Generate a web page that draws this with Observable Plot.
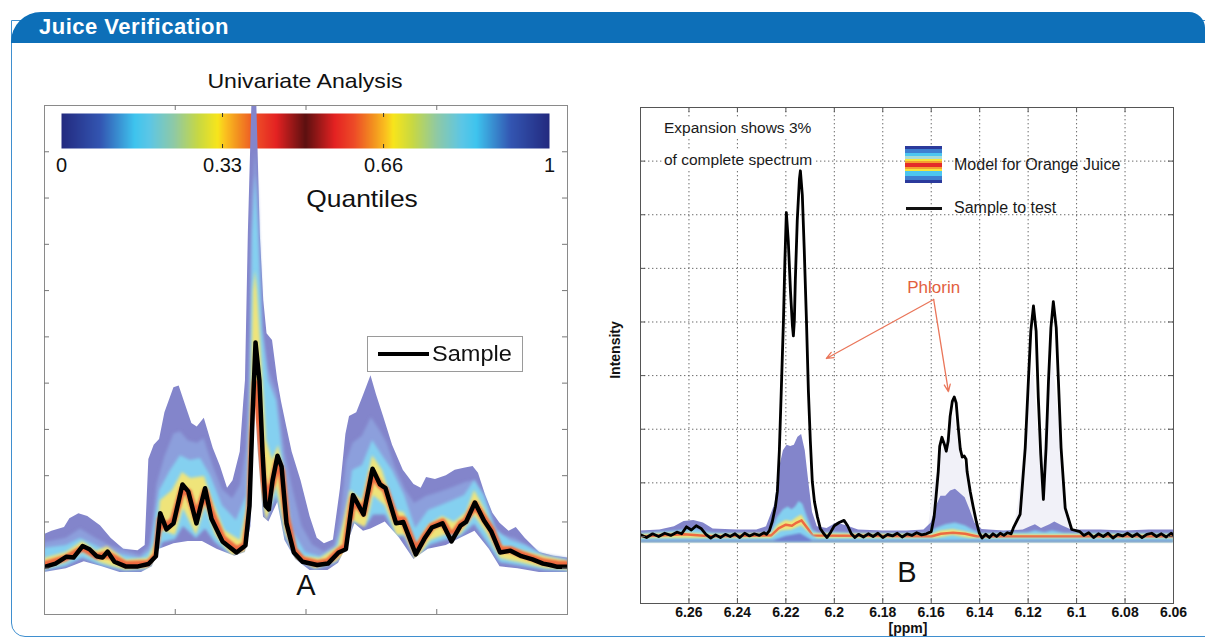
<!DOCTYPE html>
<html>
<head>
<meta charset="utf-8">
<script src="https://cdn.jsdelivr.net/npm/d3@7"></script>
<script src="https://cdn.jsdelivr.net/npm/@observablehq/plot@0.6"></script>
<style>
  html, body { margin: 0; padding: 0; background: #fff; }
  #page { position: relative; width: 1205px; height: 640px; overflow: hidden; background: #fff;
          font-family: "Liberation Sans", Arial, Helvetica, sans-serif; color: #111; }
  .abs { position: absolute; }
  .ctr { transform: translate(-50%, -50%); white-space: nowrap; }
  #panel { left: 11px; top: 20px; width: 1215px; height: 617px; border: 1.5px solid #3f8fcf;
           border-radius: 0 0 0 14px; box-sizing: border-box; }
  #header { left: 11px; top: 12px; width: 1194px; height: 31px; background: #0d6fb8; border-radius: 30px 16px 0 0; }
  #title { left: 39px; top: 14px; color: #fff; font-weight: bold; font-size: 22px; letter-spacing: 0.5px; line-height: 26px; }
  .note { font-size: 15.5px; color: #1a1a1a; white-space: nowrap; line-height: 18px; }
</style>
</head>
<body>
<div id="page">
  <div id="panel" class="abs"></div>
  <div id="header" class="abs"></div>
  <div id="title" class="abs">Juice Verification</div>

  <div id="cbar" class="abs" style="left:40px; top:105px;"></div>
  <div id="plotA" class="abs" style="left:0px; top:60px;"></div>
  <div id="plotB" class="abs" style="left:590px; top:60px;"></div>

  <!-- Panel A texts -->
  <div class="abs ctr" style="left:305px; top:81px; font-size:21px; transform: translate(-50%,-50%) scaleX(1.1);">Univariate Analysis</div>
  <div class="abs ctr" style="left:362px; top:199px; font-size:24px; transform: translate(-50%,-50%) scaleX(1.1);">Quantiles</div>
  <div class="abs" style="left:367px; top:336px; width:156px; height:36px; border:1px solid #9a9a9a; background:#fff; box-sizing:border-box;">
    <div class="abs" style="left:10px; top:15px; width:51px; height:4px; background:#000;"></div>
    <div class="abs" style="left:64px; top:4px; font-size:22px; line-height:26px; transform-origin:left center; transform: scaleX(1.07);">Sample</div>
  </div>
  <div class="abs ctr" style="left:306px; top:585px; font-size:29px;">A</div>

  <!-- Panel B texts -->
  <div class="abs note" style="left:662px; top:119px; background:#fff; padding:0 2px;">Expansion shows 3%</div>
  <div class="abs note" style="left:662px; top:151px; background:#fff; padding:0 2px;">of complete spectrum</div>
  <div class="abs" style="left:905px; top:146px; width:37px; height:37px;
     background: linear-gradient(to bottom, #2b3a9c 0%, #2b3a9c 9%, #3f7fd0 9%, #3f7fd0 18%, #4cc6f0 18%, #4cc6f0 27%, #a6dcd8 27%, #a6dcd8 34%, #f6e43a 34%, #f6e43a 41%, #f4a030 41%, #f4a030 46%, #e42c2a 46%, #e42c2a 56%, #f4a030 56%, #f4a030 61%, #f6e43a 61%, #f6e43a 68%, #4cc6f0 68%, #4cc6f0 80%, #3f7fd0 80%, #3f7fd0 91%, #2b3a9c 91%);"></div>
  <div class="abs note" style="left:954px; top:156px; font-size:16px;">Model for Orange Juice</div>
  <div class="abs" style="left:906px; top:207px; width:36px; height:3px; background:#111;"></div>
  <div class="abs note" style="left:954px; top:199px; font-size:16px;">Sample to test</div>
  <div class="abs ctr" style="left:615px; top:350px; font-size:14px; font-weight:bold; transform: translate(-50%,-50%) rotate(-90deg);">Intensity</div>
  <div class="abs ctr" style="left:907px; top:572px; font-size:29px;">B</div>
  <div class="abs ctr" style="left:908px; top:628px; font-size:14px; font-weight:bold;">[ppm]</div>
</div>

<script>
// ---------------- Colorbar (quantile colormap) ----------------
const quantileTicks = [0, 0.33, 0.66, 1];
const colorbarStops  = [0, 0.08, 0.15, 0.18, 0.23, 0.28, 0.32, 0.335, 0.36, 0.40, 0.44, 0.5, 0.56, 0.60, 0.64, 0.665, 0.68, 0.72, 0.77, 0.82, 0.85, 0.92, 1];
const colorbarColors = ["#232a7f","#3356b2","#3ec4ee","#5cc6e6","#8ec9a6","#c7d843","#f7e51c","#fbc21f","#f3931f","#ed4b27","#e42222","#5c1010",
                        "#e42222","#ed4b27","#f3931f","#fbc21f","#f7e51c","#c7d843","#8ec9a6","#5cc6e6","#3ec4ee","#3356b2","#232a7f"];

// ---------------- Panel A (univariate analysis) ----------------
// x: spectral point index (0–400), y: intensity (arbitrary units, 0–110)
const xTicksA = [100, 200, 300];
const yTicksA = [10, 20, 30, 40, 50, 60, 70, 80, 90, 100];

const sampleA = [[0,10.3],[8.4,11.0],[16.8,12.5],[22.2,12.3],[29.1,14.8],[34.4,14.1],[39.8,12.6],[44.4,12.3],[48.2,13.6],[53.5,11.4],[62,10.4],[71.5,10.4],[79.5,10.9],[85.2,12.6],[88.5,21.9],[93.3,18.4],[98.7,19.7],[105.5,28.1],[109.9,26.6],[116.2,19.7],[122.8,27.3],[127.7,20.7],[136.1,15.8],[146.8,13.4],[153.7,14.9],[156.8,23.5],[159.1,42.8],[161.4,58.8],[164.4,50.5],[166.7,35.4],[169,23.5],[171.6,22.7],[174.4,28.9],[178.2,34.3],[181.3,32.0],[185.1,19.7],[190.7,13.4],[197.3,11.4],[208.6,10.7],[216.8,11.0],[224.9,13.4],[230.5,14.1],[236,25.8],[244,21.6],[250.9,31.5],[256.6,28.1],[260.8,27.3],[268.9,19.7],[274.4,20.0],[284,13.0],[290.6,16.4],[296.3,18.8],[304.4,19.7],[311.3,15.8],[318.2,19.2],[322.4,20.0],[329.2,24.2],[336.1,20.3],[341.6,18.0],[348.4,13.4],[356.4,13.8],[364.8,12.6],[373.2,11.9],[381.3,11.0],[386.8,10.7],[392.3,10.3],[400,10.3]];

const upperOuterA = [[0,17.3],[5.7,18.0],[15.3,18.8],[19.4,20.7],[26.3,21.8],[33.1,21.2],[42.8,19.2],[50.9,16.5],[60.6,14.1],[71.5,13.8],[77,14.9],[79.8,33.5],[83.9,36.6],[88,37.8],[92.1,43.6],[99,49],[103,49.4],[107.1,45.9],[112.7,41.3],[116.8,40.5],[122.2,42.4],[129.1,35.9],[134.6,32],[140,27.3],[144.2,28.9],[149.7,35.1],[152.4,45.9],[153.7,50.5],[154.9,67.8],[155.9,82.3],[158,103.9],[158.6,110],[162.4,110],[163,103.9],[165,82.3],[167.7,67.8],[170.2,60.7],[174.4,59.2],[178.4,50.5],[181.3,45.9],[185.3,40.5],[189.4,35.1],[196.2,28.9],[203.1,21.2],[208.6,16.5],[214.1,15.3],[221,16.1],[226.4,27.3],[230.5,38.9],[233.3,42.8],[238.8,43.6],[244.2,47.5],[249.7,51.6],[253.9,47.5],[259.3,42.8],[266.2,36.6],[274.4,31.2],[282.6,28.1],[288.1,27.3],[292.2,29.6],[299,29.2],[307.3,30],[314.1,31.2],[321,31.6],[327.8,32],[331.9,30.5],[337.3,25.8],[342.9,21.9],[348.4,19.7],[355.3,18],[360.8,18.8],[367.6,16.5],[378.6,13.4],[389.5,12.6],[400,12.2]];

const blueTopA = [[0,15.5],[16.8,16.5],[27.5,18.5],[39,16.5],[50.5,14.8],[73.4,12.8],[81,15],[86,28],[92,34],[99,39],[104,39.5],[110,37.5],[117,37],[122,38],[129,32],[136,27],[144,25],[150,28],[154.5,36],[157.5,60],[159,90],[161.4,100],[163.7,90],[166.7,62],[171.3,53],[178,48],[184,35],[190,27],[197,19],[205,15],[214,13.5],[222,15],[227,22],[231,33],[236,37],[243,38.5],[250,42.5],[256,40],[262,37],[268,32],[276,27],[283,24],[292,25.5],[303,26.5],[313,27.5],[322,28.5],[330,29],[337,24],[343,19.5],[350,17],[360,16.5],[368,15],[380,13],[400,12.0]];

const cyanTopA = [[0,14.3],[16.8,14.9],[27.5,16.4],[39,14.9],[50.5,13.4],[73.4,12.1],[81,13.8],[88.1,26.8],[96.4,31.1],[104,34.3],[111.7,33.3],[119.3,33.7],[127,30],[136.1,23.5],[146.8,20.3],[154.5,25.7],[157.5,46.2],[159.1,82.3],[161.4,95],[163.7,82.3],[166.7,61.3],[171.3,50.5],[177.5,46.2],[183.6,31.1],[189.7,18.1],[199.6,13.4],[211.1,12.5],[222.6,14.3],[230.2,20.3],[235.6,31.1],[243.2,32.2],[250.9,37.6],[258.5,34.3],[266.2,31.1],[275.4,25.7],[283.8,18.6],[293.7,22.5],[302.9,23.5],[312.1,24.6],[321.3,25.7],[328.9,28.9],[336.5,25.7],[345.7,18.1],[356.4,16],[367.9,14.9],[383.2,12.6],[400,11.8]];

const yellowTopA = [[0,12.1],[16.8,13.4],[29.1,15.8],[39.8,13.6],[48.2,14.7],[61.9,11.7],[79.5,12.1],[85.7,16],[88.7,24.6],[97.9,26.8],[105.5,30.7],[111.7,29.4],[122.4,29.8],[128.5,24.6],[137.7,18.1],[149.9,16],[156,24.6],[158.3,50.5],[159.8,70],[161.4,74.3],[162.9,70],[165.2,59.2],[169.8,37.6],[174.4,33.3],[179,36.5],[182.8,31.1],[188.1,16],[195.8,12.5],[211.1,12.1],[224.9,14.7],[234,26.8],[243.2,24.6],[250.9,34.3],[258.5,31.1],[267.7,22.5],[275.3,22],[283.8,14.7],[293.7,19.2],[304.4,21.2],[313.6,19.9],[322.7,22],[328.9,26.8],[336.5,22.9],[347.2,14.9],[364,13.8],[383.2,12.5],[400,11.5]];

const medianA = [[0,10.8],[16.8,12.2],[29.1,14.2],[39.8,12.5],[48.2,13],[61.9,10.8],[79.5,11],[85.7,12.8],[88.5,20.5],[93.3,19],[98.7,20.5],[105.5,27],[109.9,26.5],[116.2,21],[122.8,26.5],[127.7,22],[136.1,16.5],[146.8,14],[153.7,15],[157,22],[159.1,38],[161.4,50],[163.7,40],[166.7,30],[170,24],[174.4,28.5],[178.2,33],[181.3,31],[185.1,21],[190.7,14],[197.3,11.8],[208.6,11],[216.8,11.4],[224.9,13.6],[230.5,14.8],[236,25],[244,22],[250.9,30.5],[256.6,28],[260.8,27],[268.9,20.5],[274.4,20.5],[284,13.8],[290.6,16.8],[296.3,19],[304.4,20],[311.3,16.8],[318.2,19.5],[322.4,20.3],[329.2,23.8],[336.1,20.8],[341.6,18.5],[348.4,14],[356.4,14],[364.8,13],[373.2,12.2],[381.3,11.4],[392.3,10.9],[400,10.8]];

const yellowBottomA = [[0,9.7],[16.8,11.2],[29.1,13.4],[42.8,11.2],[61.9,9.5],[79.5,9.9],[85.7,11.7],[90.2,18.1],[100.2,17.1],[106.3,22.9],[116.2,17.1],[123.1,23.5],[130.8,17.1],[143.8,12.5],[154.5,13.4],[158.3,28.9],[161.4,41.9],[164.4,28.9],[169.8,19.2],[177.4,27.9],[183.6,18.1],[192,11.7],[207.3,9.7],[222.6,11.2],[230.2,12.5],[236.3,20.3],[245.5,18.1],[251.6,25.7],[260.8,23.5],[269.2,17.1],[275.3,17.1],[283.7,11.2],[295.2,16],[305.9,17.1],[318.2,17.1],[328.9,21.4],[338,17.7],[348.7,12.1],[364,11.2],[383.2,9.9],[400,9.5]];

const cyanBottomA = [[0,9.4],[16.8,10.4],[29.1,12.2],[42.8,10.6],[61.9,9.3],[79.5,9.6],[85.7,11],[90.2,15.5],[100.2,16.2],[106.3,19],[116.2,16.4],[123.1,18.5],[130.8,15.5],[143.8,12.6],[154.5,13.4],[158.3,24],[161.4,40],[164.4,27],[169.8,20],[177.4,25.5],[183.6,17],[192,11.8],[207.3,9.6],[222.6,11],[230.2,13],[236.3,19.8],[245.5,18.8],[251.6,21.5],[260.8,21.5],[269.2,16.8],[275.3,16.8],[283.7,11.6],[295.2,15],[305.9,16],[318.2,16.8],[328.9,19.5],[338,15.8],[348.7,11.2],[364,10.5],[383.2,9.5],[400,9.3]];

const lowerOuterA = [[0,9.1],[16.7,9.9],[30.4,11.4],[44.1,10.3],[57.8,9.1],[74.2,9.1],[82.5,10.3],[88,14.1],[99,15.3],[109.9,15.8],[120.8,15.8],[131.9,14.1],[145.5,12.6],[153.7,13.4],[157.9,19],[159.8,35.1],[161.4,45],[163.5,35],[167.5,21],[171.6,20],[178.4,24.2],[183.9,16],[192.1,11.9],[203.1,9.5],[216.8,9.5],[224.9,11.1],[230.5,14.1],[237.4,19.6],[244,18],[249.7,18.5],[260.6,20],[271.6,16.5],[282.6,11.9],[293.5,14.1],[307.3,14.9],[318.2,16.5],[329.2,18],[340.2,14.1],[348.4,10.3],[362.1,9.9],[378.6,9.1],[400,9.1]];

// ---------------- Panel B (expansion, ppm) ----------------
const ppmTicks = [6.26, 6.24, 6.22, 6.2, 6.18, 6.16, 6.14, 6.12, 6.1, 6.08, 6.06];
const intensityTicks = [0, 1, 2, 3, 4, 5, 6, 7, 8];

const sampleB = [[6.280,0.03],[6.2775,-0.02],[6.275,0.05],[6.2725,0.0],[6.270,0.06],[6.2675,0.02],[6.265,0.08],[6.263,0.05],[6.261,0.18],[6.259,0.12],[6.257,0.2],[6.255,0.15],[6.253,0.04],[6.251,-0.03],[6.249,0.03],[6.247,-0.02],[6.245,0.04],[6.243,0.0],[6.241,0.05],[6.239,-0.02],[6.237,0.06],[6.235,0.01],[6.233,0.05],[6.231,0.02],[6.229,0.07],[6.228,0.04],
  [6.2268,0.11],[6.2256,0.28],[6.2243,0.56],[6.2235,0.84],[6.2227,1.59],[6.2219,2.71],[6.2210,4.02],[6.2204,5.14],[6.2198,6.04],[6.2190,5.51],[6.2181,4.58],[6.2173,3.93],[6.2169,3.74],[6.2165,4.02],[6.2161,4.77],[6.2153,5.89],[6.2144,6.67],[6.2140,6.82],[6.2132,6.36],[6.2124,5.33],[6.2115,4.02],[6.2107,2.71],[6.2099,1.78],[6.2091,1.03],[6.2082,0.65],[6.207,0.37],[6.2058,0.15],[6.2045,0.06],
  [6.203,-0.02],[6.2015,0.08],[6.2,0.2],[6.198,0.26],[6.196,0.3],[6.1945,0.2],[6.193,0.05],[6.1915,-0.02],[6.19,0.04],[6.188,-0.01],[6.186,0.05],[6.184,0.0],[6.182,0.06],[6.18,-0.02],[6.178,0.04],[6.176,0.01],[6.174,0.06],[6.172,-0.01],[6.17,0.05],[6.168,0.02],[6.166,0.07],[6.164,0.03],[6.162,0.05],
  [6.16,0.09],[6.1588,0.37],[6.158,0.75],[6.1571,1.21],[6.1565,1.68],[6.1556,1.85],[6.1546,1.72],[6.1538,1.59],[6.153,1.78],[6.1522,2.24],[6.1513,2.52],[6.1505,2.6],[6.1497,2.49],[6.1489,2.06],[6.148,1.63],[6.1472,1.48],[6.1464,1.5],[6.1456,1.44],[6.1452,1.21],[6.1439,0.84],[6.1427,0.56],[6.1414,0.28],[6.1402,0.07],
  [6.139,-0.03],[6.1375,0.04],[6.136,-0.02],[6.1345,0.05],[6.133,0.0],[6.1315,0.06],[6.13,0.02],[6.1285,0.07],[6.127,0.05],
  [6.1261,0.16],[6.1233,0.41],[6.1212,1.65],[6.1199,2.9],[6.1189,3.83],[6.1178,4.3],[6.1167,3.83],[6.1158,2.59],[6.1148,1.53],[6.1137,0.69],[6.1126,1.65],[6.1116,2.9],[6.1106,3.89],[6.1096,4.38],[6.1084,3.89],[6.1075,2.9],[6.1064,1.65],[6.1047,0.53],[6.102,0.13],[6.0986,0.09],
  [6.097,0.02],[6.095,0.07],[6.093,-0.02],[6.091,0.05],[6.089,0.0],[6.087,0.06],[6.085,-0.03],[6.083,0.04],[6.081,0.01],[6.079,0.06],[6.077,0.0],[6.075,0.05],[6.073,-0.02],[6.071,0.04],[6.069,0.06],[6.067,0.0],[6.065,0.05],[6.063,-0.01],[6.061,0.06],[6.06,0.03]];

const lowerOuterB = -0.11;
const faintB = [[6.28,-0.11],[6.162,-0.11],[6.159,0.9],[6.1555,1.6],[6.153,1.9],[6.1505,2.3],[6.148,1.5],[6.1455,1.3],[6.142,0.4],[6.139,-0.11],[6.127,-0.11],[6.124,0.6],[6.1205,2.2],[6.118,3.2],[6.1165,2.4],[6.1145,1.0],[6.1125,2.2],[6.1098,3.3],[6.1075,2.3],[6.104,0.5],[6.1015,-0.11],[6.06,-0.11]];
const upperOuterB = [[6.28,0.1],[6.272,0.12],[6.266,0.18],[6.262,0.28],[6.258,0.3],[6.254,0.25],[6.25,0.14],[6.24,0.12],[6.232,0.12],[6.228,0.18],[6.2245,0.6],[6.2225,1.3],[6.221,1.6],[6.2195,1.7],[6.218,1.68],[6.2165,1.7],[6.215,1.85],[6.2135,1.9],[6.212,1.6],[6.2105,1.0],[6.209,0.45],[6.207,0.18],[6.203,0.15],[6.199,0.25],[6.195,0.2],[6.19,0.12],[6.18,0.1],[6.17,0.1],[6.163,0.12],[6.16,0.25],[6.158,0.55],[6.156,0.75],[6.154,0.75],[6.152,0.85],[6.15,0.88],[6.148,0.8],[6.146,0.72],[6.144,0.5],[6.142,0.25],[6.139,0.13],[6.13,0.1],[6.122,0.12],[6.119,0.18],[6.117,0.22],[6.1145,0.15],[6.111,0.22],[6.109,0.27],[6.106,0.2],[6.102,0.12],[6.09,0.12],[6.08,0.1],[6.07,0.12],[6.06,0.12]];
const cyanTopB = [[6.28,0.05],[6.265,0.1],[6.258,0.14],[6.25,0.06],[6.23,0.05],[6.226,0.1],[6.2235,0.35],[6.221,0.5],[6.219,0.55],[6.2175,0.5],[6.216,0.55],[6.2145,0.65],[6.213,0.6],[6.211,0.35],[6.209,0.12],[6.206,0.05],[6.2,0.08],[6.19,0.05],[6.161,0.05],[6.158,0.15],[6.154,0.22],[6.15,0.25],[6.146,0.2],[6.142,0.1],[6.139,0.05],[6.12,0.07],[6.117,0.1],[6.113,0.07],[6.11,0.1],[6.105,0.06],[6.06,0.05]];
const yellowTopB = [[6.28,0.03],[6.262,0.07],[6.25,0.03],[6.226,0.05],[6.223,0.22],[6.22,0.3],[6.2175,0.28],[6.2155,0.35],[6.2135,0.4],[6.211,0.22],[6.209,0.05],[6.16,0.03],[6.156,0.1],[6.151,0.13],[6.146,0.09],[6.141,0.03],[6.06,0.03]];
const medianB = [[6.28,0.0],[6.262,0.04],[6.25,0.0],[6.226,0.02],[6.223,0.15],[6.22,0.22],[6.2175,0.2],[6.2155,0.26],[6.2135,0.3],[6.211,0.15],[6.209,0.02],[6.16,0.0],[6.156,0.05],[6.151,0.07],[6.146,0.05],[6.141,0.0],[6.06,0.0]];
const yellowBottomB = [[6.28,-0.04],[6.226,-0.04],[6.222,0.1],[6.2175,0.12],[6.2135,0.2],[6.21,0.05],[6.207,-0.04],[6.158,-0.04],[6.151,0.02],[6.144,-0.04],[6.06,-0.04]];
const cyanBottomB = [[6.28,-0.08],[6.225,-0.08],[6.22,0.0],[6.214,0.05],[6.209,-0.08],[6.06,-0.08]];

const phlorinArrows = [
  {x1: 6.159, y1: 4.42, x2: 6.2033, y2: 3.32},
  {x1: 6.159, y1: 4.42, x2: 6.1529, y2: 2.70}
];
const phlorinLabel = [{ppm: 6.159, intensity: 4.5, text: "Phlorin"}];

// ---------------- helpers ----------------
const P = d => d[0], V = d => d[1];
const jet = d3.scaleLinear().domain(colorbarStops).range(colorbarColors).interpolate(d3.interpolateRgb).clamp(true);
const FONT = '"Liberation Sans", Arial, Helvetica, sans-serif';

// soft-edge filter for the inner quantile bands (post-render styling)
function soften(svg, selector, indices, std, id) {
  const defs = d3.select(svg).insert("defs", ":first-child");
  defs.append("filter").attr("id", id).attr("x", "-5%").attr("y", "-5%").attr("width", "110%").attr("height", "110%")
    .append("feGaussianBlur").attr("stdDeviation", std);
  const groups = d3.select(svg).selectAll(selector).nodes();
  indices.forEach(i => {
    const g = groups[i];
    if (!g) return;
    g.querySelectorAll("path").forEach(p => p.setAttribute("filter", `url(#${id})`));
  });
}

// ---------------- Colorbar ----------------
const cbar = Plot.plot({
  width: 530, height: 85, marginLeft: 21, marginRight: 21, marginTop: 8, marginBottom: 42,
  x: {domain: [0, 1]}, y: {domain: [0, 1]},
  color: {type: "linear", domain: [0, 1], interpolate: jet},
  style: {background: "transparent", fontFamily: FONT, overflow: "visible", color: "#111"},
  marks: [
    Plot.raster({fill: (x, y) => x, x1: 0, x2: 1, y1: 0, y2: 1, width: 488, height: 2}),
    Plot.tickX(quantileTicks.slice(1, 3), {x: d => d, insetTop: 31, stroke: "#333"}),
    Plot.tickX(quantileTicks.slice(1, 3), {x: d => d, insetBottom: 31, stroke: "#333"}),
    Plot.axisX(quantileTicks, {anchor: "bottom", tickSize: 0, tickPadding: 9, fontSize: 20, tickFormat: d => String(d), label: null}),
    Plot.axisY([], {label: null})
  ]
});
document.getElementById("cbar").appendChild(cbar);

// ---------------- Plot A ----------------
const laven = "#8385cb", blue = "#8c9fdc", cyan = "#84d0f0", yellow = "#efe47a", orange = "#ee6a40";
const plotA = Plot.plot({
  width: 600, height: 580, marginLeft: 44, marginRight: 33, marginTop: 45, marginBottom: 26,
  x: {domain: [0, 400]}, y: {domain: [0, 110]},
  style: {background: "transparent", fontFamily: FONT, overflow: "visible"},
  marks: [
    Plot.areaY(upperOuterA, {x: P, y: V, fill: laven, clip: true}),
    Plot.areaY(blueTopA, {x: P, y: V, fill: blue, clip: true}),
    Plot.areaY(cyanTopA, {x: P, y: V, fill: cyan, clip: true}),
    Plot.areaY(yellowTopA, {x: P, y: V, fill: yellow, clip: true}),
    Plot.line(medianA, {x: P, y: V, stroke: orange, strokeWidth: 7, strokeLinejoin: "round", clip: true}),
    Plot.areaY(yellowBottomA, {x: P, y: V, fill: cyan, clip: true}),
    Plot.areaY(cyanBottomA, {x: P, y: V, fill: laven, clip: true}),
    Plot.areaY(lowerOuterA, {x: P, y: V, fill: "#fff", clip: true}),
    Plot.line(sampleA, {x: P, y: V, stroke: "#000", strokeWidth: 4.5, strokeLinejoin: "round", clip: true}),
    Plot.frame({stroke: "#8a8a8a"}),
    Plot.tickX(xTicksA, {x: d => d, insetTop: 504, stroke: "#777"}),
    Plot.tickX(xTicksA, {x: d => d, insetBottom: 504, stroke: "#777"}),
    Plot.tickY(yTicksA, {y: d => d, insetRight: 518, stroke: "#777"}),
    Plot.tickY(yTicksA, {y: d => d, insetLeft: 518, stroke: "#777"}),
    Plot.axisX([], {label: null}),
    Plot.axisY([], {label: null})
  ]
});
document.getElementById("plotA").appendChild(plotA);
// areas: 0 outer, 1 blue, 2 cyan, 3 yellow, 4 yellowBottom, 5 cyanBottom, 6 white cover (kept crisp)
soften(plotA, 'g[aria-label="area"]', [1, 2, 3, 4, 5], 1.6, "softA");
soften(plotA, 'g[aria-label="line"]', [0], 1.0, "softA2");

// ---------------- Plot B ----------------
const plotB = Plot.plot({
  width: 615, height: 580, marginLeft: 50, marginRight: 32, marginTop: 47, marginBottom: 37,
  x: {domain: [6.28, 6.06]}, y: {domain: [-1.25, 8]},
  style: {background: "transparent", fontFamily: FONT, overflow: "visible", color: "#111"},
  marks: [
    Plot.gridX(ppmTicks, {stroke: "#6a6a6a", strokeOpacity: 1, strokeDasharray: "1.4,2.6"}),
    Plot.gridY(intensityTicks, {stroke: "#6a6a6a", strokeOpacity: 1, strokeDasharray: "1.4,2.6"}),
    Plot.areaY(faintB, {x: P, y1: lowerOuterB, y2: V, fill: "#f1f1f8", clip: true}),
    Plot.areaY(upperOuterB, {x: P, y1: lowerOuterB, y2: V, fill: laven, clip: true}),
    Plot.areaY(cyanTopB, {x: P, y1: lowerOuterB, y2: V, fill: cyan, clip: true}),
    Plot.areaY(yellowTopB, {x: P, y1: lowerOuterB, y2: V, fill: yellow, clip: true}),
    Plot.line(medianB, {x: P, y: V, stroke: orange, strokeWidth: 2.5, clip: true}),
    Plot.areaY(yellowBottomB, {x: P, y1: lowerOuterB, y2: V, fill: cyan, clip: true}),
    Plot.areaY(cyanBottomB, {x: P, y1: lowerOuterB, y2: V, fill: "#6f7fd0", clip: true}),
    Plot.line(sampleB, {x: P, y: V, stroke: "#000", strokeWidth: 2.8, strokeLinejoin: "round", clip: true}),
    Plot.frame({stroke: "#555"}),
    Plot.tickX(ppmTicks, {x: d => d, insetTop: 491, stroke: "#555"}),
    Plot.tickX(ppmTicks, {x: d => d, insetBottom: 491, stroke: "#555"}),
    Plot.tickY(intensityTicks, {y: d => d, insetRight: 528, stroke: "#555"}),
    Plot.tickY(intensityTicks, {y: d => d, insetLeft: 528, stroke: "#555"}),
    Plot.axisX(ppmTicks, {anchor: "bottom", tickSize: 0, tickPadding: 4, fontSize: 14, fontWeight: "bold", tickFormat: d => String(d), label: null}),
    Plot.axisY([], {label: null}),
    Plot.arrow(phlorinArrows, {x1: "x1", y1: "y1", x2: "x2", y2: "y2", stroke: "#ea765a", strokeWidth: 1.3, headLength: 9, headAngle: 45}),
    Plot.text(phlorinLabel, {x: "ppm", y: "intensity", text: "text", fill: "#e2603e", fontSize: 17, lineAnchor: "bottom", dy: -2})
  ]
});
document.getElementById("plotB").appendChild(plotB);
// areas: 0 faint, 1 outer, 2 cyan, 3 yellow, 4 yellowBottom, 5 cyanBottom
soften(plotB, 'g[aria-label="area"]', [2, 3, 4, 5], 0.8, "softB");
</script>
</body>
</html>
